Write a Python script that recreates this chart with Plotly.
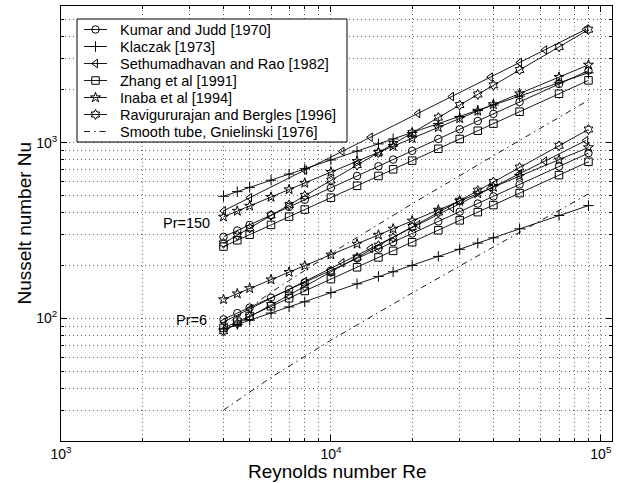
import plotly.graph_objects as go

# Reynolds numbers of the plotted points
re_main = [4000, 4500, 5000, 6000, 7000, 8000, 10000, 12500, 15000, 17000,
           20000, 25000, 30000, 35000, 40000, 50000, 70000, 90000]
re_sethu = [4000, 5000, 8000, 11000, 14000, 21000, 28000, 39000, 50000, 62000, 88000]
re_smooth = [4000, 6000, 10000, 20000, 40000, 90000]

# Nusselt numbers, Pr = 150 group
kumar_150 = [291, 316, 340, 387, 431, 473, 553, 646, 734, 801, 898, 1050, 1192, 1328, 1458, 1705, 2158, 2573]
klaczak_150 = [495, 526, 556, 611, 662, 710, 797, 895, 984, 1050, 1143, 1284, 1411, 1529, 1639, 1841, 2193, 2499]
sethu_150 = [409, 486, 697, 891, 1073, 1466, 1830, 2362, 2860, 3375, 4419]
zhang_150 = [256, 278, 299, 340, 379, 416, 486, 568, 646, 705, 790, 923, 1049, 1169, 1283, 1500, 1898, 2263]
inaba_150 = [378, 408, 436, 490, 541, 589, 680, 784, 881, 954, 1059, 1221, 1373, 1515, 1650, 1903, 2361, 2773]
ravi_150 = [267, 297, 326, 385, 442, 498, 609, 745, 877, 982, 1137, 1389, 1637, 1881, 2121, 2593, 3509, 4400]
smooth_150 = [90, 140.5, 234, 448.6, 842, 1746]

# Nusselt numbers, Pr = 6 group
kumar_6 = [98.6, 107, 115, 131, 146, 160, 187, 219, 249, 271, 304, 356, 404, 450, 494, 578, 731, 872]
klaczak_6 = [86.8, 92.3, 97.5, 107, 116, 124, 140, 157, 173, 184, 200, 225, 247, 268, 287, 323, 385, 438]
sethu_6 = [95.1, 113, 162, 207, 250, 341, 426, 549, 665, 785, 1028]
zhang_6 = [88, 95.6, 103, 117, 130, 143, 167, 195, 222, 242, 271, 317, 361, 402, 441, 516, 653, 778]
inaba_6 = [128, 138, 148, 166, 183, 199, 230, 265, 298, 323, 359, 414, 465, 513, 559, 645, 799, 939]
ravi_6 = [84.3, 93.2, 102, 119, 136, 152, 184, 222, 259, 288, 331, 400, 467, 533, 597, 721, 960, 1189]
smooth_6 = [30.0, 46.0, 75.0, 139.5, 254.6, 511]

x_ticks = [1000, 10000, 100000]
x_ticktext = ["10<sup>3</sup>", "10<sup>4</sup>", "10<sup>5</sup>"]
y_ticks = [100, 1000]
y_ticktext = ["10<sup>2</sup>", "10<sup>3</sup>"]

FONT = "Liberation Sans, Arial, Helvetica, sans-serif"
W, H = 623, 483
ML, MR, MT, MB = 61, 11, 6, 42

series = [
    ("Kumar and Judd [1970]", re_main, kumar_150, kumar_6, "circle-open"),
    ("Klaczak [1973]", re_main, klaczak_150, klaczak_6, "cross-thin-open"),
    ("Sethumadhavan and Rao [1982]", re_sethu, sethu_150, sethu_6, "triangle-left-open"),
    ("Zhang et al [1991]", re_main, zhang_150, zhang_6, "square-open"),
    ("Inaba et al [1994]", re_main, inaba_150, inaba_6, "star-open"),
    ("Ravigururajan and Bergles [1996]", re_main, ravi_150, ravi_6, "hexagram-open"),
]
smooth_name = "Smooth tube, Gnielinski [1976]"
DASHDOT = "6px,4px,1.5px,4px"
MSIZE = 7.5

fig = go.Figure()
for name, xs, y150, y6, sym in series:
    for ys in (y150, y6):
        fig.add_trace(go.Scatter(
            x=xs, y=ys, mode="lines+markers", name=name, showlegend=False,
            line=dict(color="black", width=0.9),
            marker=dict(symbol=sym, size=MSIZE, color="black",
                        line=dict(color="black", width=1)),
        ))
for ys in (smooth_150, smooth_6):
    fig.add_trace(go.Scatter(
        x=re_smooth, y=ys, mode="lines", name=smooth_name, showlegend=False,
        line=dict(color="black", width=0.9, dash=DASHDOT),
    ))

# ---- legend box drawn on an overlay pixel axis ----
LX0, LX1, LY0, LY1 = 77, 347, 19, 142
fig.add_trace(go.Scatter(
    x=[LX0, LX1, LX1, LX0, LX0], y=[LY0, LY0, LY1, LY1, LY0],
    xaxis="x2", yaxis="y2", mode="lines", fill="toself", fillcolor="white",
    line=dict(color="black", width=1), showlegend=False, hoverinfo="skip",
))
entry_y0, entry_dy = 29.5, 17.0
sx0, sx1, tx = 84, 107, 118
for k, (name, _, _, _, sym) in enumerate(series):
    ey = entry_y0 + k * entry_dy
    fig.add_trace(go.Scatter(
        x=[sx0, sx1], y=[ey, ey], xaxis="x2", yaxis="y2", mode="lines",
        line=dict(color="black", width=0.9), showlegend=False, hoverinfo="skip"))
    fig.add_trace(go.Scatter(
        x=[(sx0 + sx1) / 2], y=[ey], xaxis="x2", yaxis="y2", mode="markers",
        marker=dict(symbol=sym, size=MSIZE, color="black", line=dict(color="black", width=1)),
        showlegend=False, hoverinfo="skip"))
    fig.add_annotation(x=tx, y=ey, xref="x2", yref="y2", text=name, showarrow=False,
                       xanchor="left", yanchor="middle",
                       font=dict(family=FONT, size=14.5, color="black"))
ey = entry_y0 + 6 * entry_dy
fig.add_trace(go.Scatter(
    x=[sx0, sx1], y=[ey, ey], xaxis="x2", yaxis="y2", mode="lines",
    line=dict(color="black", width=0.9, dash=DASHDOT), showlegend=False, hoverinfo="skip"))
fig.add_annotation(x=tx, y=ey, xref="x2", yref="y2", text=smooth_name, showarrow=False,
                   xanchor="left", yanchor="middle",
                   font=dict(family=FONT, size=14.5, color="black"))

grid_minor_x = [m * 10 ** k for k in (3, 4) for m in range(2, 10)]
grid_minor_y = [m * 10 ** k for k in (1, 2, 3) for m in range(2, 10)]
GRID = "rgba(0,0,0,0.6)"
GDASH = "1px,3px"

axis_common = dict(
    type="log", showline=True, linecolor="black", linewidth=1, mirror="allticks",
    ticks="inside", ticklen=6, tickcolor="black", tickwidth=1, automargin=False,
    showgrid=True, gridcolor=GRID, griddash=GDASH, gridwidth=1,
    zeroline=False, tickfont=dict(family=FONT, size=14, color="black"),
)
minor_common = dict(tickmode="array", ticks="inside", ticklen=3, tickcolor="black",
                    showgrid=True, gridcolor=GRID, griddash=GDASH, gridwidth=1)

fig.update_layout(
    width=W, height=H,
    margin=dict(l=ML, r=MR, t=MT, b=MB, autoexpand=False),
    paper_bgcolor="white", plot_bgcolor="white",
    font=dict(family=FONT, color="black"),
    showlegend=False,
    xaxis=dict(axis_common, range=[3, 5.04139], tickmode="array",
               tickvals=x_ticks, ticktext=x_ticktext,
               minor=dict(minor_common, tickvals=grid_minor_x)),
    yaxis=dict(axis_common, range=[1.30103, 3.77815], tickmode="array",
               tickvals=y_ticks, ticktext=y_ticktext,
               minor=dict(minor_common, tickvals=grid_minor_y)),
    xaxis2=dict(overlaying="x", anchor="y2", range=[ML, W - MR], visible=False,
                fixedrange=True, automargin=False),
    yaxis2=dict(overlaying="y", anchor="x2", range=[H - MB, MT], visible=False,
                fixedrange=True, automargin=False),
)

# axis titles
fig.add_annotation(x=0.5, y=0, xref="paper", yref="paper", yanchor="top", yshift=-18,
                   text="Reynolds number Re", showarrow=False,
                   font=dict(family=FONT, size=19, color="black"))
fig.add_annotation(x=0, y=0.5, xref="paper", yref="paper", xanchor="center", xshift=-37,
                   text="Nusselt number Nu", textangle=-90, showarrow=False,
                   font=dict(family=FONT, size=19, color="black"))

fig.add_annotation(x=3.5604, y=2.540, xref="x", yref="y", text="Pr=150",
                   showarrow=False, xanchor="right", yanchor="middle",
                   font=dict(family=FONT, size=14.5, color="black"))
fig.add_annotation(x=3.5474, y=1.9886, xref="x", yref="y", text="Pr=6",
                   showarrow=False, xanchor="right", yanchor="middle",
                   font=dict(family=FONT, size=14.5, color="black"))

fig.write_html("out.html", config={"displayModeBar": False, "staticPlot": True},
               post_script="document.body.style.margin='0px';document.body.style.overflow='hidden';")
